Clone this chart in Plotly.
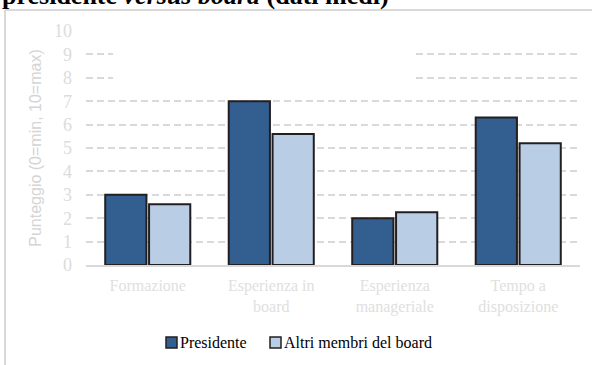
import plotly.graph_objects as go

categories = ["Formazione", "Esperienza in<br>board", "Esperienza<br>manageriale", "Tempo a<br>disposizione"]
presidente = [3.0, 7.0, 2.0, 6.3]
altri = [2.6, 5.6, 2.25, 5.2]
series_names = ["Presidente", "Altri membri del board"]
y_ticks = list(range(0, 11))
title_html = "<b>presidente <i>versus board</i> (dati medi)</b>"
y_title = "Punteggio (0=min, 10=max)"

W, H = 592, 365
L, R, T, B = 86, 12, 31, 100
PW, PH = W - L - R, H - T - B

def px(x):
    return (x - L) / PW

def py(y):
    return (H - B - y) / PH

C_PRES = "#335e90"
C_ALTRI = "#b9cde4"
C_EDGE = "#231f20"
C_GRID = "#d9d9d9"
SERIF = "Liberation Serif, Times New Roman, serif"
SANS = "Liberation Sans, Arial, sans-serif"

fig = go.Figure()
fig.add_trace(go.Bar(x=categories, y=presidente, name=series_names[0],
                     marker=dict(color=C_PRES, line=dict(color=C_EDGE, width=2))))
fig.add_trace(go.Bar(x=categories, y=altri, name=series_names[1],
                     marker=dict(color=C_ALTRI, line=dict(color=C_EDGE, width=2))))

fig.update_layout(
    width=W, height=H,
    margin=dict(l=L, r=R, t=T, b=B, pad=0),
    paper_bgcolor="white", plot_bgcolor="white",
    barmode="group", bargap=0.29, bargroupgap=0.06,
    showlegend=False,
    xaxis=dict(showline=True, linecolor=C_GRID, linewidth=2, showgrid=False,
               tickfont=dict(family=SERIF, size=16, color="#e0e0e0"),
               ticks="", ticklabelstandoff=5),
    yaxis=dict(range=[0, 10], tickvals=y_ticks, showgrid=True, gridcolor=C_GRID,
               gridwidth=2, griddash="7px,4px", zeroline=False, showline=False,
               ticks="", ticklabelstandoff=13,
               tickfont=dict(family=SERIF, size=18, color="#dcdcdc"),
               title=dict(text=y_title, font=dict(family=SANS, size=16, color="#d4d4d4"),
                          standoff=8)),
)

shapes = []
# white mask hiding the upper gridlines in the middle
shapes.append(dict(type="rect", xref="paper", yref="paper",
                   x0=px(113), x1=px(412), y0=py(88), y1=py(18),
                   fillcolor="white", line=dict(width=0), layer="above"))
# chart border (left and top)
shapes.append(dict(type="line", xref="paper", yref="paper",
                   x0=px(5), x1=px(5), y0=py(10), y1=py(370),
                   line=dict(color=C_GRID, width=2)))
shapes.append(dict(type="line", xref="paper", yref="paper",
                   x0=px(5), x1=px(600), y0=py(10), y1=py(10),
                   line=dict(color=C_GRID, width=2)))
# custom legend squares
for x0, col in [(166, C_PRES), (270, C_ALTRI)]:
    shapes.append(dict(type="rect", xref="paper", yref="paper",
                       x0=px(x0), x1=px(x0 + 11), y0=py(348), y1=py(337),
                       fillcolor=col, line=dict(color=C_EDGE, width=1.5)))
fig.update_layout(shapes=shapes)

fig.add_annotation(text=series_names[0], xref="paper", yref="paper",
                   x=px(178), y=py(342.5), xanchor="left", yanchor="middle",
                   showarrow=False, font=dict(family=SERIF, size=16, color="black"))
fig.add_annotation(text=series_names[1], xref="paper", yref="paper",
                   x=px(282), y=py(342.5), xanchor="left", yanchor="middle",
                   showarrow=False, font=dict(family=SERIF, size=16, color="black"))
fig.add_annotation(text=title_html, xref="paper", yref="paper",
                   x=px(0), y=py(12), xanchor="left", yanchor="bottom",
                   showarrow=False, font=dict(family=SERIF, size=26, color="black"))

fig.write_html("out.html")
